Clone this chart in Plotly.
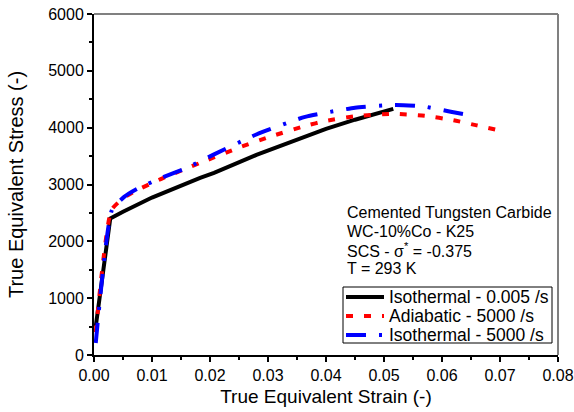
import plotly.graph_objects as go

# Data
iso_slow_strain = [0.0003, 0.0028, 0.005, 0.010, 0.0183, 0.0207, 0.028, 0.0355, 0.040, 0.045, 0.0516]
iso_slow_stress = [500, 2400, 2520, 2770, 3116, 3204, 3520, 3803, 3980, 4140, 4331]

adia_strain = [0.0003, 0.0030, 0.0052, 0.0074, 0.0116, 0.0183, 0.025, 0.0300, 0.0364, 0.040, 0.045, 0.0516, 0.057, 0.062, 0.066, 0.070]
adia_stress = [400, 2550, 2770, 2900, 3100, 3380, 3650, 3830, 4030, 4120, 4200, 4243, 4210, 4130, 4040, 3949]

iso_fast_strain = [0.0003, 0.0031, 0.0052, 0.0074, 0.0116, 0.016, 0.0207, 0.028, 0.0364, 0.045, 0.052, 0.057, 0.0615, 0.0645]
iso_fast_stress = [211, 2553, 2782, 2922, 3116, 3292, 3530, 3880, 4190, 4350, 4400, 4370, 4280, 4225]

series_names = ["Isothermal - 0.005 /s", "Adiabatic - 5000 /s", "Isothermal - 5000 /s"]
info_lines = ["Cemented Tungsten Carbide", "WC-10%Co - K25",
              "SCS - σ<sup>*</sup> = -0.375", "T = 293 K"]

x_ticks = [0.00, 0.01, 0.02, 0.03, 0.04, 0.05, 0.06, 0.07, 0.08]
y_ticks = [0, 1000, 2000, 3000, 4000, 5000, 6000]

font = "Liberation Sans, Arial, sans-serif"
colors = ["black", "red", "blue"]
dashes = ["solid", "7px,11px", "20px,13px,3px,13px"]

fig = go.Figure()
fig.add_trace(go.Scatter(x=iso_slow_strain, y=iso_slow_stress, mode="lines",
                         name=series_names[0],
                         line=dict(color=colors[0], width=4)))
fig.add_trace(go.Scatter(x=adia_strain, y=adia_stress, mode="lines",
                         name=series_names[1],
                         line=dict(color=colors[1], width=4, dash=dashes[1], shape="spline", smoothing=0.5)))
fig.add_trace(go.Scatter(x=iso_fast_strain, y=iso_fast_stress, mode="lines",
                         name=series_names[2],
                         line=dict(color=colors[2], width=4, dash=dashes[2], shape="spline", smoothing=0.5)))

# geometry helpers (plot area in pixels)
L, R, T, B = 94, 558, 14, 355
W, H = R - L, B - T


def px(x):
    return (x - L) / W


def py(y):
    return (B - y) / H


# info text, one annotation per line
for txt, yc in zip(info_lines, [213, 231, 250, 268]):
    fig.add_annotation(xref="paper", yref="paper", x=px(345), y=py(yc),
                       xanchor="left", yanchor="middle", text=txt, showarrow=False,
                       font=dict(family=font, size=16, color="black"))

# legend box drawn manually
fig.add_shape(type="rect", xref="paper", yref="paper",
              x0=px(343), x1=px(552), y0=py(343), y1=py(287),
              line=dict(color="black", width=1), fillcolor="white", layer="above")
for name, col, dsh, yc in zip(series_names, colors, dashes, [297, 316, 335]):
    fig.add_shape(type="line", xref="paper", yref="paper",
                  x0=px(346), x1=px(384), y0=py(yc), y1=py(yc),
                  line=dict(color=col, width=4, dash=dsh), layer="above")
    fig.add_annotation(xref="paper", yref="paper", x=px(387), y=py(yc),
                       xanchor="left", yanchor="middle", text=name, showarrow=False,
                       font=dict(family=font, size=17.5, color="black"))

# gray top & right frame lines
fig.add_shape(type="line", xref="paper", yref="paper", x0=0, x1=1, y0=1, y1=1,
              line=dict(color="#808080", width=2))
fig.add_shape(type="line", xref="paper", yref="paper", x0=1, x1=1, y0=0, y1=1,
              line=dict(color="#808080", width=2))

fig.update_layout(
    width=574, height=412,
    margin=dict(l=L, r=574 - R, t=T, b=412 - B),
    plot_bgcolor="white", paper_bgcolor="white",
    font=dict(family=font, size=16, color="black"),
    showlegend=False,
)
fig.update_xaxes(
    range=[0, 0.08], tickvals=x_ticks, ticktext=[f"{v:.2f}" for v in x_ticks],
    automargin=False,
    showgrid=False, zeroline=False, showline=True, linecolor="black", linewidth=2,
    ticks="outside", ticklen=5, tickwidth=1.5, tickcolor="black",
    minor=dict(ticks="outside", ticklen=3, dtick=0.005, tick0=0, tickcolor="black"),
    title=dict(text="True Equivalent Strain (-)", font=dict(family=font, size=19), standoff=6),
    tickfont=dict(family=font, size=16),
)
fig.update_yaxes(
    range=[0, 6000], tickvals=y_ticks,
    automargin=False,
    showgrid=False, zeroline=False, showline=True, linecolor="black", linewidth=2,
    ticks="outside", ticklen=5, tickwidth=1.5, tickcolor="black",
    minor=dict(ticks="outside", ticklen=3, dtick=500, tick0=0, tickcolor="black"),
    title=dict(text="True Equivalent Stress (-)", font=dict(family=font, size=20), standoff=19),
    tickfont=dict(family=font, size=16),
)

fig.write_html("out.html")
